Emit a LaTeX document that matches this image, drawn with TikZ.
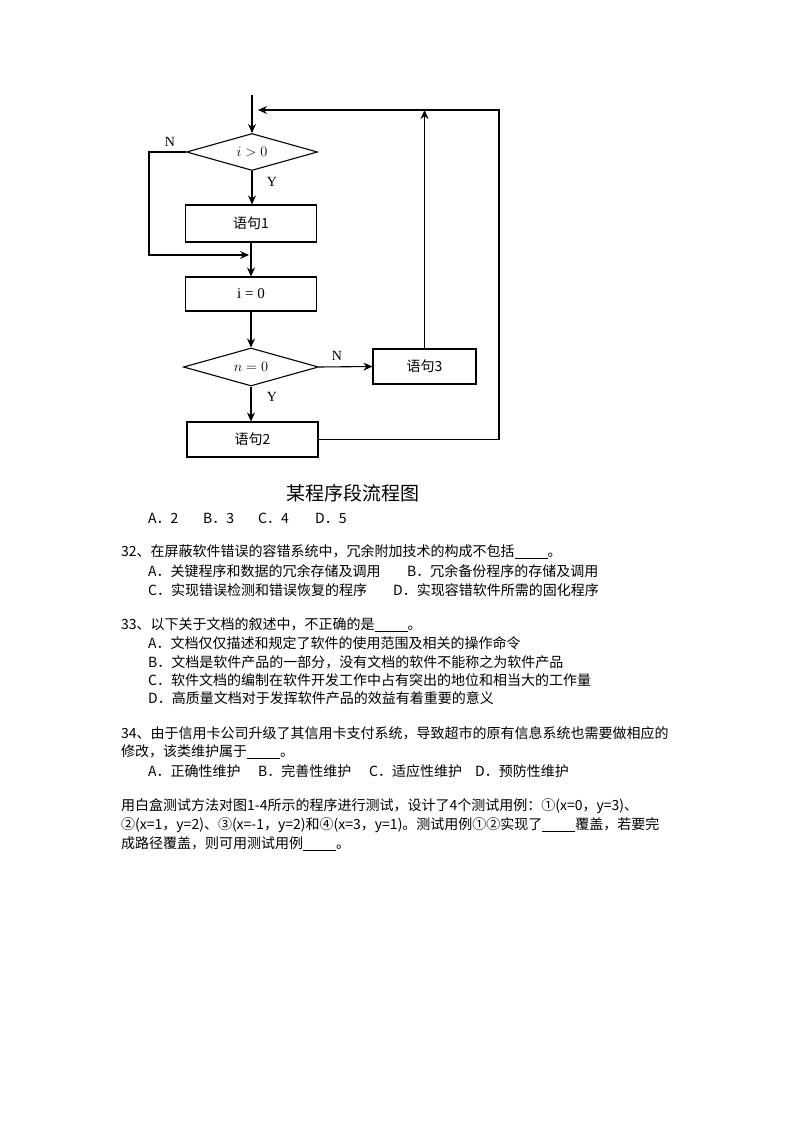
\documentclass[tikz,border=0pt]{standalone}
\usepackage{fontspec}
\usetikzlibrary{shapes.geometric,arrows.meta}
\newfontfamily\cjk{Noto Sans CJK SC}
\newfontfamily\tnr{Liberation Serif}
\newcommand{\blk}{\rule[-2pt]{33pt}{0.6pt}}
\begin{document}
\begin{tikzpicture}[x=1pt,y=-1pt,
  box/.style={draw, line width=1.1pt, minimum width=131pt, minimum height=35pt, inner sep=0pt, font=\cjk\fontsize{14}{16}\selectfont},
  dia/.style={draw, diamond, line width=1.1pt, inner sep=0pt, minimum width=131pt, minimum height=37pt, aspect=3.5, font=\fontsize{15}{17}\selectfont},
  flow/.style={line width=1.1pt},
  arr/.style={flow, -{Stealth[length=9pt,width=8pt]}},
  yn/.style={font=\tnr\fontsize{14}{16}\selectfont, inner sep=0pt},
  txt/.style={anchor=west, inner sep=0pt, font=\cjk\fontsize{14}{16}\selectfont},
]
\useasboundingbox (0,0) rectangle (794,1123);
% flowchart nodes
\node[dia] (d1) at (252,152) {$i>0$};
\node[box, minimum height=37pt] (s1) at (251,223.5) {语句1};
\node[box, minimum height=34pt] (s0) at (251,294) {\tnr\fontsize{15}{17}\selectfont i = 0};
\node[dia, minimum width=135pt, minimum height=38pt] (d2) at (251,367) {$n=0$};
\node[box, minimum width=103pt] (s3) at (424.5,366.5) {语句3};
\node[box] (s2) at (252.5,439.5) {语句2};
\coordinate (top) at (252,95);
\coordinate (fb) at (258,110);
\coordinate (rc) at (499,110);
\coordinate (nl) at (149,152);
\coordinate (nj) at (249,255);
% connectors
\draw[arr] (top) -- (d1.north);
\draw[arr] (d1.south) -- (d1.south |- s1.north);
\draw[arr] (s1.south) -- (s1.south |- s0.north);
\draw[arr] (d1.west) -- (nl) |- (nj);
\draw[arr] (s0.south) -- (s0.south |- d2.north);
\draw[arr] (d2.south) -- (d2.south |- s2.north);
\draw[arr] (d2.east) -- (s3.west);
\draw[arr] (s3.north) -- (s3.north |- rc);
\draw[arr] (s2.east) -| (rc) -- (fb);
% labels
\node[yn] (n1) at (170,142) {N};
\node[yn] (y1) at (272,182) {Y};
\node[yn] (n2) at (337,356) {N};
\node[yn] (y2) at (272,397) {Y};
\node[font=\cjk\fontsize{19}{22}\selectfont, inner sep=0pt] (cap) at (353,493) {某程序段流程图};
% text
\node[txt] (o1) at (148,518) {A．2};
\node[txt] (o2) at (203,518) {B．3};
\node[txt] (o3) at (258,518) {C．4};
\node[txt] (o4) at (315,518) {D．5};
\node[txt] (q32) at (121,552) {32、在屏蔽软件错误的容错系统中，冗余附加技术的构成不包括\blk 。};
\node[txt] (q32a) at (148,571) {A．关键程序和数据的冗余存储及调用};
\node[txt] (q32b) at (407,571) {B．冗余备份程序的存储及调用};
\node[txt] (q32c) at (148,590) {C．实现错误检测和错误恢复的程序};
\node[txt] (q32d) at (393,590) {D．实现容错软件所需的固化程序};
\node[txt] (q33) at (121,625) {33、以下关于文档的叙述中，不正确的是\blk 。};
\node[txt] (q33a) at (148,643) {A．文档仅仅描述和规定了软件的使用范围及相关的操作命令};
\node[txt] (q33b) at (148,662) {B．文档是软件产品的一部分，没有文档的软件不能称之为软件产品};
\node[txt] (q33c) at (148,680) {C．软件文档的编制在软件开发工作中占有突出的地位和相当大的工作量};
\node[txt] (q33d) at (148,698) {D．高质量文档对于发挥软件产品的效益有着重要的意义};
\node[txt] (q34) at (121,733) {34、由于信用卡公司升级了其信用卡支付系统，导致超市的原有信息系统也需要做相应的};
\node[txt] (q34l) at (121,752) {修改，该类维护属于\blk 。};
\node[txt] (q34a) at (148,771) {A．正确性维护};
\node[txt] (q34b) at (258,771) {B．完善性维护};
\node[txt] (q34c) at (369,771) {C．适应性维护};
\node[txt] (q34d) at (475,771) {D．预防性维护};
\node[txt] (p1) at (121,806) {用白盒测试方法对图1-4所示的程序进行测试，设计了4个测试用例：①(x=0，y=3)、};
\node[txt] (p2) at (121,825) {②(x=1，y=2)、③(x=-1，y=2)和④(x=3，y=1)。测试用例①②实现了\blk 覆盖，若要完};
\node[txt] (p3) at (121,844) {成路径覆盖，则可用测试用例\blk 。};
\end{tikzpicture}
\end{document}
